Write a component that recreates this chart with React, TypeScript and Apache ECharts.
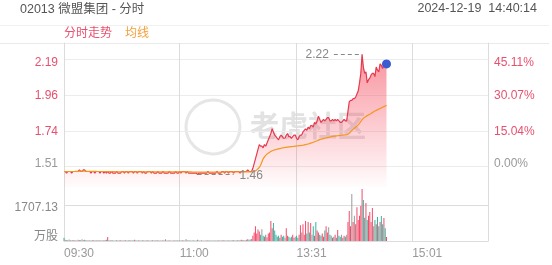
import React, { useEffect, useRef } from "react";
import * as echarts from "echarts";

// ---- data ----
const preClose = 1.51;
const pctTicks = [0, 15.04, 30.07, 45.11];
const priceMin = 1.382;
const priceMax = 2.292;
const volTicks = [0, 1707.13];
const volMax = 2560.7;
const xTickLabels = ["09:30", "11:00", "13:31", "15:01"];
const titleText = "02013 微盟集团 - 分时";
const dateText = "2024-12-19  14:40:14";

const price = [
  1.48,1.48,1.47,1.48,1.48,1.48,1.47,1.48,1.48,1.48,
  1.48,1.48,1.49,1.48,1.48,1.49,1.49,1.48,1.48,1.48,
  1.48,1.47,1.48,1.48,1.47,1.48,1.48,1.48,1.47,1.48,
  1.48,1.47,1.48,1.47,1.48,1.47,1.47,1.48,1.47,1.47,
  1.47,1.48,1.47,1.47,1.47,1.48,1.48,1.47,1.48,1.48,
  1.47,1.48,1.48,1.48,1.47,1.48,1.48,1.47,1.48,1.48,
  1.48,1.47,1.48,1.47,1.47,1.48,1.48,1.48,1.47,1.48,
  1.47,1.47,1.47,1.48,1.47,1.47,1.47,1.48,1.47,1.47,
  1.47,1.47,1.48,1.47,1.47,1.47,1.47,1.48,1.47,1.47,
  1.48,1.47,1.48,1.48,1.48,1.47,1.48,1.47,1.47,1.47,
  1.47,1.47,1.47,1.47,1.46,1.47,1.47,1.47,1.47,1.47,
  1.47,1.47,1.48,1.47,1.47,1.47,1.47,1.47,1.47,1.48,
  1.47,1.47,1.47,1.48,1.48,1.47,1.48,1.48,1.47,1.48,
  1.48,1.48,1.47,1.48,1.48,1.48,1.48,1.47,1.48,1.48,
  1.48,1.48,1.48,1.49,1.48,1.48,1.48,
  1.50,1.53,1.56,1.59,1.62,1.65,
  1.64,1.64,1.63,1.65,1.64,1.66,1.68,
  1.70,1.72,1.75,1.73,1.71,1.70,1.69,1.68,1.70,1.71,
  1.70,1.69,1.69,1.71,1.72,1.70,1.70,1.69,1.70,1.71,
  1.71,1.69,1.68,1.70,1.71,1.71,1.73,1.74,1.75,1.74,
  1.76,1.75,1.77,1.77,1.76,1.79,1.78,1.80,1.83,1.81,
  1.79,1.80,1.81,1.80,1.81,1.82,1.82,1.80,1.80,1.81,
  1.80,1.81,1.80,1.81,1.80,1.79,1.79,1.80,1.81,1.80,
  1.80,1.86,1.92,1.93,1.93,1.94,1.94,1.95,1.97,1.99,
  2.04,2.10,2.22,2.14,2.10,2.11,2.04,2.06,2.07,2.09,
  2.10,2.10,2.08,2.14,2.12,2.11,2.16,2.15,2.13,2.16,2.15,2.16,
];

const avgPrice = [
  1.480,1.480,1.479,1.479,1.480,1.480,1.480,1.480,1.480,1.481,
  1.481,1.481,1.482,1.482,1.482,1.482,1.482,1.482,1.481,1.481,
  1.481,1.481,1.481,1.481,1.481,1.481,1.480,1.480,1.480,1.480,
  1.480,1.480,1.480,1.479,1.479,1.479,1.479,1.479,1.479,1.479,
  1.478,1.478,1.478,1.478,1.478,1.478,1.478,1.478,1.478,1.478,
  1.478,1.478,1.478,1.478,1.478,1.478,1.478,1.478,1.478,1.478,
  1.478,1.478,1.478,1.478,1.477,1.477,1.477,1.477,1.477,1.477,
  1.477,1.477,1.477,1.477,1.477,1.477,1.477,1.477,1.477,1.477,
  1.477,1.477,1.477,1.477,1.477,1.477,1.477,1.477,1.477,1.477,
  1.477,1.477,1.477,1.477,1.477,1.477,1.477,1.477,1.477,1.477,
  1.476,1.476,1.476,1.476,1.476,1.476,1.476,1.476,1.476,1.476,
  1.476,1.476,1.476,1.476,1.476,1.476,1.476,1.476,1.476,1.476,
  1.476,1.476,1.476,1.476,1.477,1.477,1.477,1.477,1.477,1.477,
  1.477,1.477,1.477,1.477,1.477,1.477,1.477,1.477,1.477,1.477,
  1.477,1.477,1.477,1.477,1.477,1.477,1.477,
  1.478,1.480,1.484,1.490,1.497,1.505,
  1.520,1.540,1.560,1.572,1.582,1.590,1.596,
  1.601,1.606,1.611,1.614,1.617,1.619,1.621,1.623,1.625,1.627,
  1.629,1.630,1.632,1.633,1.634,1.635,1.636,1.637,1.638,1.639,
  1.640,1.641,1.642,1.643,1.644,1.645,1.646,1.648,1.650,1.652,
  1.654,1.656,1.659,1.662,1.665,1.668,1.671,1.674,1.678,1.681,
  1.684,1.686,1.688,1.690,1.692,1.694,1.696,1.698,1.700,1.702,
  1.703,1.704,1.705,1.706,1.707,1.708,1.709,1.710,1.711,1.712,
  1.713,1.716,1.722,1.730,1.738,1.746,1.753,1.760,1.767,1.775,
  1.784,1.796,1.808,1.816,1.822,1.828,1.833,1.838,1.842,1.847,
  1.852,1.857,1.862,1.866,1.870,1.874,1.878,1.882,1.886,1.890,1.894,1.898,
];

const volume = [
  150,60,40,30,70,40,20,50,30,20,
  40,60,30,40,80,30,60,40,30,20,
  30,20,40,30,20,30,20,40,30,20,
  20,30,40,60,190,40,30,20,30,20,
  20,30,20,40,30,20,30,20,30,20,
  30,20,40,30,20,60,30,20,20,30,
  20,30,20,20,40,20,30,20,20,30,
  20,30,20,30,20,20,20,30,20,80,
  20,30,20,20,20,30,20,20,30,20,
  20,20,30,20,20,80,20,20,30,20,
  20,30,20,20,60,20,20,30,20,20,
  20,20,30,20,20,20,30,20,20,20,
  30,20,20,40,30,20,20,30,20,20,
  30,40,30,20,30,40,30,30,60,40,
  50,40,60,80,60,70,90,
  250,400,700,350,550,450,
  300,560,250,200,300,180,350,
  400,950,600,850,500,300,200,250,150,300,
  200,250,150,600,250,200,150,200,300,150,
  200,250,150,300,750,400,800,300,950,350,
  900,400,850,300,700,250,900,500,400,300,
  250,350,200,500,700,400,650,300,250,150,
  200,300,150,520,250,200,300,150,250,200,
  300,900,1420,700,2230,900,1200,800,1600,1000,
  1200,1660,2465,1950,1100,1800,1000,1200,1375,900,
  1560,700,1000,800,1140,700,900,1185,800,1090,600,190,
];

// trading minutes: 09:30-12:00, 13:01-16:00
const pad = (n: number) => (n < 10 ? "0" + n : "" + n);
const times: string[] = [];
for (let m = 9 * 60 + 30; m <= 12 * 60; m++) times.push(pad(Math.floor(m / 60)) + ":" + pad(m % 60));
for (let m = 13 * 60 + 1; m <= 16 * 60; m++) times.push(pad(Math.floor(m / 60)) + ":" + pad(m % 60));

const FONT = '"Liberation Sans", "Noto Sans CJK SC", sans-serif';
const RED = "#e8506e";
const GRAY = "#999";

export default function App() {
  const ref = useRef<HTMLDivElement>(null);
  useEffect(() => {
    if (!ref.current) return;
    const chart = echarts.init(ref.current, null, { renderer: "svg" });

    const priceTicks = pctTicks.map((p) => preClose * (1 + p / 100));
    const pctMin = (priceMin / preClose - 1) * 100;
    const pctMax = (priceMax / preClose - 1) * 100;
    let maxIdx = 0, minIdx = 0;
    price.forEach((v, i) => {
      if (v > price[maxIdx]) maxIdx = i;
      if (v < price[minIdx]) minIdx = i;
    });
    const last = price.length - 1;
    const topTick = priceTicks[priceTicks.length - 1];

    const rich = {
      t: { color: RED, padding: [7, 0, 0, 0], fontSize: 12, fontFamily: FONT },
      r: { color: RED, fontSize: 12, fontFamily: FONT },
      g: { color: GRAY, padding: [0, 0, 7, 0], fontSize: 12, fontFamily: FONT },
    };
    const tag = (v: number, base: number, top: number) =>
      Math.abs(v - base) < 1e-6 ? "g" : Math.abs(v - top) < 1e-6 ? "t" : "r";

    const option: any = {
      animation: false,
      textStyle: { fontFamily: FONT },
      grid: [
        { left: 64, right: 64, top: 43, height: 144 },
        { left: 64, right: 64, top: 187, height: 54 },
      ],
      xAxis: [
        {
          gridIndex: 0, type: "category", data: times, boundaryGap: false,
          axisLine: { show: false }, axisTick: { show: false }, axisLabel: { show: false },
          splitLine: {
            show: true,
            interval: (i: number, v: string) => i > 0 && xTickLabels.includes(v),
            lineStyle: { color: "#dcdcdc", width: 1 },
          },
        },
        {
          gridIndex: 1, type: "category", data: times, boundaryGap: false,
          axisLine: { show: true, lineStyle: { color: "#dcdcdc" } },
          axisTick: { show: false },
          axisLabel: {
            show: true,
            interval: (i: number, v: string) => xTickLabels.includes(v),
            align: "left", color: GRAY, fontSize: 12, margin: 6, fontFamily: FONT,
          },
          splitLine: {
            show: true,
            interval: (i: number, v: string) => i > 0 && xTickLabels.includes(v),
            lineStyle: { color: "#dcdcdc", width: 1 },
          },
        },
      ],
      yAxis: [
        {
          gridIndex: 0, type: "value", position: "left", min: priceMin, max: priceMax,
          axisLine: { show: true, lineStyle: { color: "#dcdcdc" } },
          axisTick: { show: false, customValues: priceTicks },
          splitLine: { show: true, lineStyle: { color: "#ececec" } },
          axisLabel: {
            customValues: priceTicks, margin: 6, fontSize: 12,
            formatter: (v: number) => `{${tag(v, preClose, topTick)}|${v.toFixed(2)}}`,
            rich,
          },
        },
        {
          gridIndex: 0, type: "value", position: "right", min: pctMin, max: pctMax,
          axisLine: { show: true, lineStyle: { color: "#dcdcdc" } },
          axisTick: { show: false, customValues: pctTicks },
          splitLine: { show: false },
          axisLabel: {
            customValues: pctTicks, margin: 6, fontSize: 12,
            formatter: (v: number) => `{${tag(v, 0, pctTicks[pctTicks.length - 1])}|${v.toFixed(2)}%}`,
            rich,
          },
        },
        {
          gridIndex: 1, type: "value", position: "left", min: 0, max: volMax,
          axisLine: { show: true, lineStyle: { color: "#dcdcdc" } },
          axisTick: { show: false, customValues: volTicks.filter((v) => v > 0) },
          splitLine: { show: true, lineStyle: { color: "#dcdcdc" } },
          axisLabel: {
            customValues: volTicks, margin: 6, fontSize: 12,
            formatter: (v: number) => (v === 0 ? "{u|万股}" : `{v|${v.toFixed(2)}}`),
            rich: {
              u: { color: "#888", padding: [0, 0, 10, 0], fontSize: 12, fontFamily: FONT },
              v: { color: "#888", padding: [3, 0, 0, 0], fontSize: 12, fontFamily: FONT },
            },
          },
        },
        {
          gridIndex: 1, type: "value", position: "right", min: 0, max: 1,
          axisLine: { show: true, lineStyle: { color: "#dcdcdc" } },
          axisTick: { show: false }, axisLabel: { show: false }, splitLine: { show: false },
        },
      ],
      series: [
        {
          name: "分时走势", type: "line", xAxisIndex: 0, yAxisIndex: 0, data: price,
          showSymbol: false, z: 3,
          lineStyle: { color: "#e8394f", width: 1.2 },
          areaStyle: {
            origin: "start",
            color: new echarts.graphic.LinearGradient(0, 0, 0, 1, [
              { offset: 0, color: "rgba(244,60,80,0.78)" },
              { offset: 1, color: "rgba(244,60,80,0.02)" },
            ]),
          },
          markLine: {
            silent: true, symbol: ["none", "none"],
            lineStyle: { color: "#888", type: [4, 3], width: 1 },
            label: { color: "#888", fontSize: 12, fontFamily: FONT },
            data: [
              [
                { coord: [times[maxIdx - 22], price[maxIdx]] , label: { position: "start", formatter: price[maxIdx].toFixed(2) } },
                { coord: [times[maxIdx], price[maxIdx]] },
              ],
              [
                { coord: [times[minIdx], price[minIdx]] },
                { coord: [times[minIdx + 28], price[minIdx]], label: { position: "end", distance: 6, formatter: price[minIdx].toFixed(2) } },
              ],
            ],
          },
          markPoint: {
            silent: true,
            data: [{ coord: [times[last], price[last]], symbol: "circle", symbolSize: 9 }],
            itemStyle: { color: "#3d5bd1" },
            label: { show: false },
          },
        },
        {
          name: "均线", type: "line", xAxisIndex: 0, yAxisIndex: 0, data: avgPrice,
          showSymbol: false, z: 4,
          lineStyle: { color: "#f5961f", width: 1.2 },
        },
        {
          name: "成交量", type: "bar", xAxisIndex: 1, yAxisIndex: 2, data: volume,
          barWidth: 1,
          itemStyle: {
            color: (p: any) => {
              const i = p.dataIndex;
              const prev = i === 0 ? preClose : price[i - 1];
              return price[i] > prev ? "#f24b6a" : price[i] < prev ? "#34b39f" : "#9a9a9a";
            },
          },
        },
      ],
      graphic: [
        { type: "text", left: 20, top: 3, style: { text: titleText, fill: "#555", font: `12.5px ${FONT}` } },
        { type: "text", right: 15, top: 2, style: { text: dateText, fill: "#555", font: `12.5px ${FONT}` } },
        { type: "line", shape: { x1: 0, y1: 25.5, x2: 549, y2: 25.5 }, style: { stroke: "#f0f0f0", lineWidth: 1 } },
        { type: "line", shape: { x1: 0, y1: 43.5, x2: 549, y2: 43.5 }, style: { stroke: "#eaeaea", lineWidth: 1 } },
        { type: "text", left: 64, top: 27, style: { text: "分时走势", fill: RED, font: `12px ${FONT}` } },
        { type: "text", left: 125, top: 27, style: { text: "均线", fill: "#f3a03a", font: `12px ${FONT}` } },
        { type: "circle", shape: { cx: 213, cy: 127, r: 27 }, z: -1, style: { fill: "none", stroke: "#e6e6e6", lineWidth: 3 } },
        { type: "text", left: 250, top: 112, z: -1, style: { text: "老虎社区", fill: "#e2e2e2", font: `bold 29px ${FONT}` } },
      ],
    };
    chart.setOption(option);
    return () => chart.dispose();
  }, []);
  return <div ref={ref} style={{ position: "fixed", left: 0, top: 0, width: 552, height: 265 }} />;
}
